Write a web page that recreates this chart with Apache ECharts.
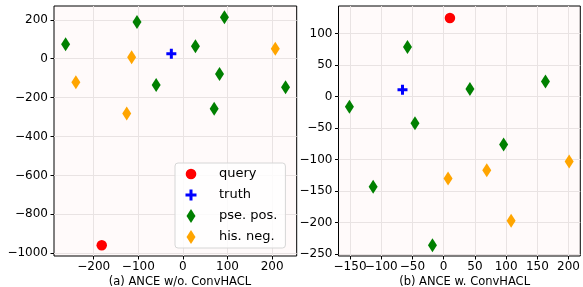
<!DOCTYPE html>
<html>
<head>
<meta charset="utf-8">
<script src="https://cdn.jsdelivr.net/npm/echarts@6/dist/echarts.min.js"></script>
<style>
  html, body { margin: 0; padding: 0; background: #fff; }
  #chart { width: 583px; height: 287px; }
</style>
</head>
<body>
<div id="chart"></div>
<script>
// (a) ANCE w/o. ConvHACL
var leftQuery = [[-182, -959]];
var leftTruth = [[-26, 26]];
var leftPos = [[-263, 74], [-103, 189], [-60, -135], [28, 64], [93, 213], [82, -79], [70, -257], [230, -147]];
var leftNeg = [[-240, -121], [-115, 7], [-126, -281], [207, 51]];
var leftXTicks = [-200, -100, 0, 100, 200];
var leftYTicks = [-1000, -800, -600, -400, -200, 0, 200];

// (b) ANCE w. ConvHACL
var rightQuery = [[10, 125]];
var rightTruth = [[-66, 11]];
var rightPos = [[-58, 79], [-151, -16], [-46, -42], [42, 12], [163, 24], [96, -76], [-113, -143], [-18, -236]];
var rightNeg = [[201, -103], [69, -117], [7, -130], [108, -197]];
var rightXTicks = [-150, -100, -50, 0, 50, 100, 150, 200];
var rightYTicks = [-250, -200, -150, -100, -50, 0, 50, 100];

var captions = ['(a) ANCE w/o. ConvHACL', '(b) ANCE w. ConvHACL'];
var names = ['query', 'truth', 'pse. pos.', 'his. neg.'];

var font = 'DejaVu Sans';
var diamond = 'path://M4.5,0 L9,7 L4.5,14 L0,7 Z';
var plus = 'path://M3.5,0 H6.5 V3.5 H10 V6.5 H6.5 V10 H3.5 V6.5 H0 V3.5 H3.5 Z';
// legend icons padded so they keep their size next to the diamond
var legendCircle = 'path://M0,0 M14,14 M12.3,7 A5.3,5.3 0 1 1 1.7,7 A5.3,5.3 0 1 1 12.3,7 Z';
var legendPlus = 'path://M0,0 M14,14 M5.5,1.5 H8.5 V5.5 H12.5 V8.5 H8.5 V12.5 H5.5 V8.5 H1.5 V5.5 H5.5 Z';

// the right x labels overlap like in matplotlib, so they are split over two axes
var rightXEven = rightXTicks.filter(function (v, i) { return i % 2 === 0; });
var rightXOdd = rightXTicks.filter(function (v, i) { return i % 2 === 1; });

function minus(v) {
  return String(v).replace('-', '\u2212');
}

function axis(idx, min, max, ticks, margin) {
  return {
    type: 'value', gridIndex: idx, min: min, max: max,
    axisLine: { show: false, onZero: false },
    axisTick: { show: true, length: 3.5, customValues: ticks, lineStyle: { color: '#000', width: 1 } },
    axisLabel: { customValues: ticks, formatter: minus, interval: 0, hideOverlap: false,
      showMinLabel: true, showMaxLabel: true,
      color: '#000', fontFamily: font, fontSize: 12, margin: margin },
    splitLine: { show: true, lineStyle: { color: '#e9e3e3', width: 1 } }
  };
}
function scatter(idx, name, data, symbol, size, color) {
  return {
    type: 'scatter', name: name, xAxisIndex: idx, yAxisIndex: idx,
    data: data, symbol: symbol, symbolSize: size,
    itemStyle: { color: color, opacity: 1 },
    emphasis: { disabled: true }
  };
}

var chart = echarts.init(document.getElementById('chart'));
chart.setOption({
  animation: false,
  title: [
    { text: captions[0], left: 175, top: 271, textAlign: 'center',
      textStyle: { fontFamily: font, fontSize: 11.5, fontWeight: 'normal', color: '#000' } },
    { text: captions[1], left: 459.6, top: 271, textAlign: 'center',
      textStyle: { fontFamily: font, fontSize: 11.5, fontWeight: 'normal', color: '#000' } }
  ],
  grid: [
    { left: 54, top: 6, width: 242.7, height: 250, show: true, backgroundColor: '#fffafa', borderColor: '#000', borderWidth: 1 },
    { left: 338.5, top: 6, width: 242.2, height: 250, show: true, backgroundColor: '#fffafa', borderColor: '#000', borderWidth: 1 }
  ],
  xAxis: [
    axis(0, -289, 255, leftXTicks, 5),
    axis(1, -168.5, 218.8, rightXEven, 5),
    Object.assign(axis(1, -168.5, 218.8, rightXOdd, 5), { position: 'bottom' })
  ],
  yAxis: [
    axis(0, -1014, 271, leftYTicks, 6),
    axis(1, -253, 144, rightYTicks, 6)
  ],
  legend: {
    orient: 'vertical', left: 175, top: 163,
    itemWidth: 20, itemHeight: 14, itemGap: 7,
    padding: [4, 8, 4, 9],
    backgroundColor: 'rgba(255,255,255,0.8)', borderColor: '#d6d6d6', borderWidth: 1, borderRadius: 3,
    textStyle: { fontFamily: font, fontSize: 13, color: '#000', padding: [0, 0, 0, 13] },
    selectedMode: false,
    data: [
      { name: names[0], icon: legendCircle },
      { name: names[1], icon: legendPlus },
      { name: names[2], icon: diamond },
      { name: names[3], icon: diamond }
    ]
  },
  series: [
    scatter(0, names[0], leftQuery, 'circle', 10.5, 'red'),
    scatter(0, names[1], leftTruth, plus, 10, 'blue'),
    scatter(0, names[2], leftPos, diamond, [9, 14], 'green'),
    scatter(0, names[3], leftNeg, diamond, [9, 14], 'orange'),
    scatter(1, names[0], rightQuery, 'circle', 10.5, 'red'),
    scatter(1, names[1], rightTruth, plus, 10, 'blue'),
    scatter(1, names[2], rightPos, diamond, [9, 14], 'green'),
    scatter(1, names[3], rightNeg, diamond, [9, 14], 'orange')
  ]
});
</script>
</body>
</html>
